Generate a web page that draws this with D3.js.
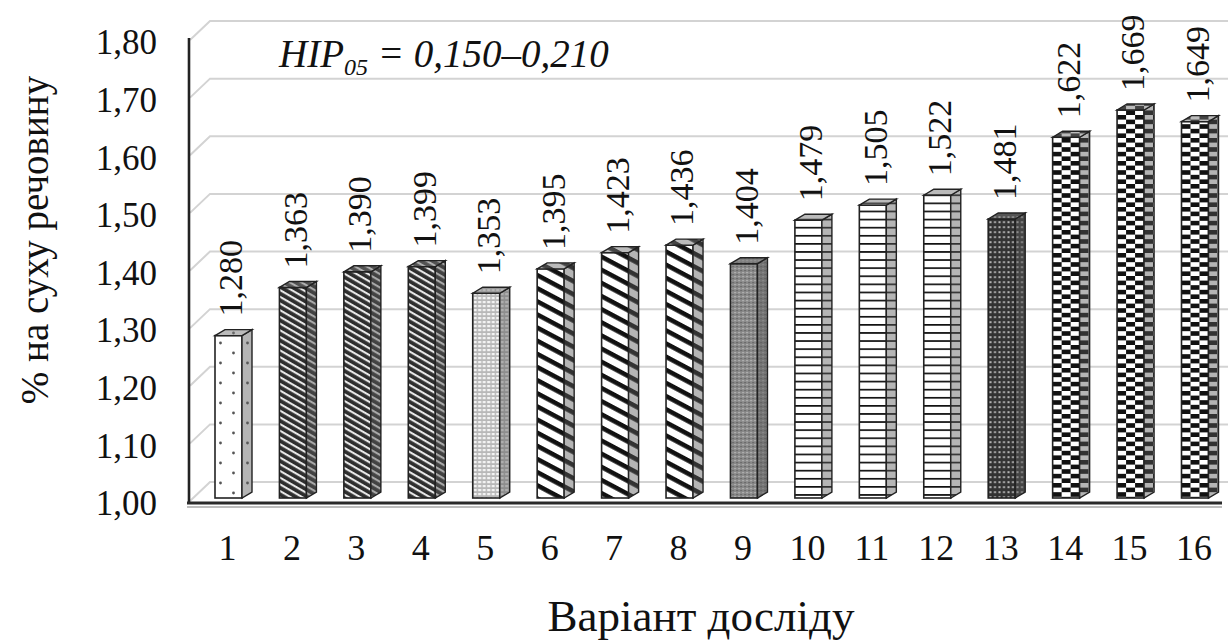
<!DOCTYPE html>
<html><head><meta charset="utf-8">
<script src="https://cdn.jsdelivr.net/npm/d3@7"></script>
<style>body{margin:0;background:#fff}svg{display:block}text{font-family:"Liberation Serif","Times New Roman",serif;fill:#111}</style>
</head><body><svg id="c" width="1228" height="641"></svg>
<script>
const categories = ["1","2","3","4","5","6","7","8","9","10","11","12","13","14","15","16"];
const values = [1.280,1.363,1.390,1.399,1.353,1.395,1.423,1.436,1.404,1.479,1.505,1.522,1.481,1.622,1.669,1.649];
const groups = [0,1,1,1,2,3,3,3,4,5,5,5,6,7,7,7];
const yTicks = [1.00,1.10,1.20,1.30,1.40,1.50,1.60,1.70,1.80];
const yTitle = "% на суху речовину";
const xTitle = "Варіант досліду";
const note = {main:"HIP", sub:"05", rest:" = 0,150–0,210"};

const svg = d3.select("#c");
const defs = svg.append("defs");
const yAxis = d3.scaleLinear().domain([1,1.8]).range([501,40]);
const yBar = d3.scaleLinear().domain([1,1.8]).range([498,34]);
const x = d3.scalePoint().domain(categories).range([228.5,1195]);
const barW = 27, dX = 10, dY = 6, wallDX = 20, wallDY = 19;
const fmt3 = v => v.toFixed(3).replace(".", ",");
const fmt2 = v => v.toFixed(2).replace(".", ",");

function makePattern(id, g, x0){
  const p = defs.append("pattern").attr("id", id).attr("patternUnits","userSpaceOnUse");
  if(g===0){
    p.attr("x",x0).attr("y",0).attr("width",27).attr("height",20);
    p.append("rect").attr("width",27).attr("height",20).attr("fill","#fff");
    p.append("circle").attr("cx",5.5).attr("cy",3).attr("r",1.4).attr("fill","#555");
    p.append("circle").attr("cx",18.5).attr("cy",13).attr("r",1.4).attr("fill","#555");
  } else if(g===1){
    p.attr("width",10).attr("height",5.8).attr("patternTransform","rotate(30)");
    p.append("rect").attr("width",10).attr("height",5.8).attr("fill","#2e2e2e");
    p.append("rect").attr("y",0).attr("width",10).attr("height",2.1).attr("fill","#e8e8e8");
  } else if(g===2){
    p.attr("x",x0).attr("y",0).attr("width",4.5).attr("height",4);
    p.append("rect").attr("width",4.5).attr("height",4).attr("fill","#b8b8b8");
    p.append("rect").attr("x",1).attr("y",1).attr("width",3).attr("height",2.2).attr("fill","#f4f4f4");
  } else if(g===3){
    p.attr("width",12).attr("height",11.6).attr("patternTransform","rotate(28)");
    p.append("rect").attr("width",12).attr("height",11.6).attr("fill","#fff");
    p.append("rect").attr("y",0).attr("width",12).attr("height",4.6).attr("fill","#111");
  } else if(g===4){
    p.attr("x",x0).attr("width",4).attr("height",4);
    p.append("rect").attr("width",4).attr("height",4).attr("fill","#8a8a8a");
    p.append("rect").attr("x",0).attr("y",0).attr("width",1.2).attr("height",1.2).attr("fill","#c8c8c8");
    p.append("rect").attr("x",2).attr("y",2).attr("width",1.2).attr("height",1.2).attr("fill","#555");
  } else if(g===5){
    p.attr("x",x0).attr("y",0).attr("width",27).attr("height",8.1);
    p.append("rect").attr("width",27).attr("height",8.1).attr("fill","#fff");
    p.append("rect").attr("y",0).attr("width",27).attr("height",1.7).attr("fill","#111");
  } else if(g===6){
    p.attr("x",x0).attr("y",0).attr("width",4.5).attr("height",5);
    p.append("rect").attr("width",4.5).attr("height",5).attr("fill","#333");
    p.append("rect").attr("x",1.3).attr("y",1.2).attr("width",2).attr("height",2).attr("fill","#b4b4b4");
  } else {
    p.attr("x",x0).attr("y",0).attr("width",18).attr("height",9.2);
    p.append("rect").attr("width",18).attr("height",9.2).attr("fill","#fff");
    p.append("rect").attr("x",9).attr("y",0).attr("width",9).attr("height",4.6).attr("fill","#111");
    p.append("rect").attr("x",0).attr("y",4.6).attr("width",9).attr("height",4.6).attr("fill","#111");
  }
}
categories.forEach((c,i)=>makePattern("pat"+i, groups[i], x(c)-barW/2));

svg.append("g").selectAll("path").data(yTicks).join("path")
  .attr("d", t => `M190,${yAxis(t)} L${190+wallDX},${yAxis(t)-wallDY} L1228,${yAxis(t)-wallDY}`)
  .attr("fill","none").attr("stroke","#d3d3d3").attr("stroke-width",2);

svg.append("path").attr("d",`M189,${yAxis(1.8)-2} V503`).attr("stroke","#222").attr("stroke-width",2.6);
svg.append("path").attr("d","M187,507 H1222").attr("stroke","#bdbdbd").attr("stroke-width",2);
svg.append("path").attr("d","M187,503 H1222").attr("stroke","#2a2a2a").attr("stroke-width",3);

const bars = svg.append("g").selectAll("g").data(values).join("g");
bars.each(function(v,i){
  const g = d3.select(this);
  const x0 = x(categories[i]) - barW/2, yt = yBar(v), yb = yBar(1);
  const fill = `url(#pat${i})`;
  g.append("rect").attr("x",x0).attr("y",yt).attr("width",barW).attr("height",yb-yt)
    .attr("fill",fill).attr("stroke","#222").attr("stroke-width",1.6);
  const side = `M${x0+barW},${yt} L${x0+barW+dX},${yt-dY} L${x0+barW+dX},${yb-dY} L${x0+barW},${yb} Z`;
  g.append("path").attr("d",side).attr("fill",fill);
  g.append("path").attr("d",side).attr("fill","rgba(90,90,90,0.45)").attr("stroke","#222").attr("stroke-width",1.4);
  const top = `M${x0},${yt} L${x0+dX},${yt-dY} L${x0+barW+dX},${yt-dY} L${x0+barW},${yt} Z`;
  g.append("path").attr("d",top).attr("fill",fill);
  g.append("path").attr("d",top).attr("fill","rgba(120,120,120,0.5)").attr("stroke","#222").attr("stroke-width",1.4);
});

svg.append("g").selectAll("text").data(values).join("text")
  .attr("transform",(v,i)=>`translate(${x(categories[i])+2},${yBar(v)-19}) rotate(-90)`)
  .attr("dy","0.35em").attr("text-anchor","start").style("font-size","34px")
  .text(v=>fmt3(v));

svg.append("g").selectAll("text").data(yTicks).join("text")
  .attr("x",157).attr("y",t=>yAxis(t)+2).attr("dy","0.35em").attr("text-anchor","end")
  .style("font-size","35px").text(t=>fmt2(t));

svg.append("g").selectAll("text").data(categories).join("text")
  .attr("x",c=>x(c)-1).attr("y",560).attr("text-anchor","middle")
  .style("font-size","36px").text(c=>c);

svg.append("text").attr("x",701).attr("y",631).attr("text-anchor","middle")
  .style("font-size","45px").text(xTitle);
svg.append("text").attr("transform","translate(48,240) rotate(-90)").attr("text-anchor","middle")
  .style("font-size","39px").text(yTitle);

const nt = svg.append("text").attr("x",279).attr("y",67).style("font-size","39px").style("font-style","italic");
nt.append("tspan").text(note.main);
nt.append("tspan").attr("dy",8).style("font-size","24px").text(note.sub);
nt.append("tspan").attr("dy",-8).text(note.rest);
</script></body></html>
